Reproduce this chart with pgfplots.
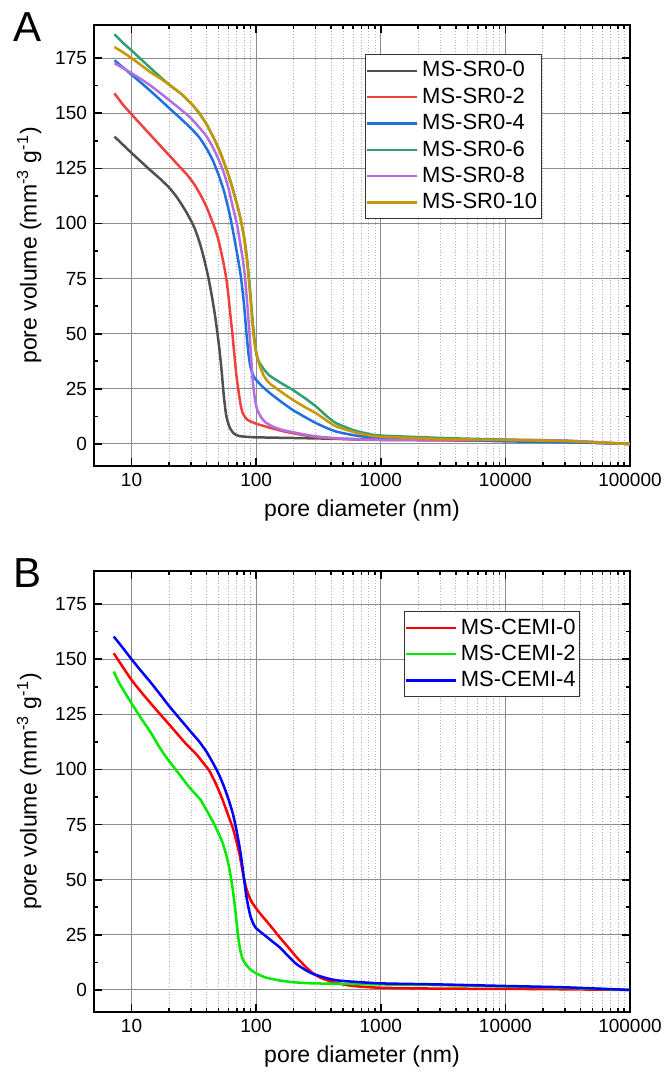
\documentclass[border=0pt]{standalone}
\usepackage{fontspec}
\setmainfont{Liberation Sans}
\usepackage{pgfplots}
\pgfplotsset{compat=1.18}

\definecolor{cA0}{RGB}{80,80,80}
\definecolor{cA2}{RGB}{240,64,64}
\definecolor{cA4}{RGB}{32,112,224}
\definecolor{cA6}{RGB}{48,160,112}
\definecolor{cA8}{RGB}{176,112,224}
\definecolor{cA10}{RGB}{200,150,0}
\definecolor{cB0}{RGB}{255,0,0}
\definecolor{cB2}{RGB}{0,235,0}
\definecolor{cB4}{RGB}{0,0,255}

\begin{document}
\begin{tikzpicture}
\path[use as bounding box] (-47pt,-303.5pt) rectangle (285pt,233pt);

\begin{axis}[
  at={(0pt,0pt)}, anchor=south west,
  scale only axis, width=268pt, height=220.5pt,
  xmode=log, xmin=5, xmax=100000, ymin=-10, ymax=190,
  xtick={10,100,1000,10000,100000},
  xticklabels={10,100,1000,10000,100000},
  ytick={0,25,50,75,100,125,150,175}, minor y tick num=1,
  tick align=inside,
  major tick length=4pt, minor tick length=2pt,
  xmajorgrids, ymajorgrids, xminorgrids,
  major grid style={black!45, line width=0.5pt},
  minor grid style={black!30, densely dotted, line width=0.4pt},
  axis line style={line width=1pt},
  every tick/.style={black, line width=0.8pt},
  tick label style={font=\fontsize{9.5}{11}\selectfont},
  label style={font=\fontsize{11.5}{13}\selectfont},
  xlabel={pore diameter (nm)},
  ylabel={pore volume (mm\textsuperscript{-3} g\textsuperscript{-1})},
  /pgf/number format/assume math mode=true,
  legend cell align=left,
  legend style={font=\fontsize{11}{13}\selectfont, draw=black!80, line width=0.5pt, anchor=north west, row sep=0pt, inner xsep=0pt, inner ysep=1.5pt, at={(axis description cs:0.506,0.934)}},
  legend image code/.code={\draw[#1] (-2pt,0pt) -- (23pt,0pt);},
  every axis plot/.append style={line width=1.25pt, smooth, tension=0.35},
]
\addplot[cA0] coordinates {
(7.3,139.4) (10,132) (14,124.4) (17,120.2) (20,116.3) (22.5,112.8) (25,109) (27.5,105.2)
(30,101.3) (32,98) (34,94) (36,89.5) (38,84.5) (41,76.5)
(44,67.5) (47,57.5) (50,46) (52.5,35) (55,22) (57.5,13) (61,7.8) (66,4.8) (73,3.6) (85,3.2)
(100,3.0) (200,2.7) (500,2.3) (1000,2.1) (3000,1.8) (10000,1.5) (30000,1.0) (100000,0)
};
\addlegendentry{MS-SR0-0}
\addplot[cA2] coordinates {
(7.3,159) (8.5,154) (10,149.5) (12,144.6) (14,140.5) (17,135.3) (20,131) (24,126.1) (28,122)
(32,117.6) (36,112.7) (40,107.5) (43,103) (46,98.7) (49,94) (52,88) (55,81.5) (57.6,75)
(60,67) (62,59) (64.5,50) (67,40) (69.5,31) (72,24.5) (75,18) (78,14) (85,11) (100,9.2)
(130,7.3) (170,5.6) (230,4.2) (320,3.0) (560,2.1) (1000,1.8) (10000,1.4) (30000,1.0) (100000,0)
};
\addlegendentry{MS-SR0-2}
\addplot[cA4] coordinates {
(7.3,174) (10,167.5) (14,160.4) (20,152.4) (29,144) (35,139) (40,134) (45,128.5) (50,122)
(55,115) (60,106.5) (63,101) (67,93) (71,85) (74,79) (76,74.5) (80,63) (83.7,50) (87,40.5)
(90,35) (95,31) (100,29) (115,25.5) (128,23.2) (160,19) (197,15.4) (250,12) (304,9.4)
(370,7.2) (440,5.6) (600,4.0) (800,3.1) (1000,2.6) (3000,2.0) (10000,1.2) (30000,0.8) (100000,0)
};
\addlegendentry{MS-SR0-4}
\addplot[cA6] coordinates {
(7.3,185.8) (8.5,182) (10,178.5) (12,174.3) (14,170.8) (17,166.5) (20,163) (25,158.8)
(30,154.5) (35,150) (40,145) (45,139.5) (50,134) (55,128) (60,122) (65,115.5) (70,109)
(73,105) (76,100.5) (80,94) (84,85.5) (87,77) (90,68) (93,58) (96,50) (98.5,44) (101,40)
(106,37) (115,34) (128,31) (160,27.5) (197,24.5) (250,20.5) (304,16.9) (370,12.5) (440,9.4)
(600,6.3) (767,4.8) (1000,3.8) (3590,2.6) (10000,2.0) (30000,1.5) (100000,0)
};
\addlegendentry{MS-SR0-6}
\addplot[cA8] coordinates {
(7.3,172.7) (10,168.2) (14,162.8) (20,156) (29,148.5) (35,143.5) (40,139.5) (45,134.5)
(50,129) (55,123) (60,116) (65,107.5) (70,100) (74,92) (78,84) (81.6,75) (85,63) (88.4,50)
(91,40) (93.5,30) (95.5,25) (98,20) (102,15.5) (110,12) (120,9.6) (140,7.6) (164,6.3)
(220,4.8) (304,3.4) (562,2.2) (1000,1.9) (10000,1.8) (30000,1.5) (100000,0)
};
\addlegendentry{MS-SR0-8}
\addplot[cA10] coordinates {
(7.3,180) (8.5,177.7) (10,175) (12,171.7) (14,168.8) (17,165.8) (20,163) (25,158.8)
(30,154.5) (35,150) (40,145) (45,139.5) (50,134) (55,128) (60,122) (65,115.5) (70,109)
(73,105) (76,100.5) (80,93.5) (84,84.5) (87,75.5) (90,66) (92.5,58) (95,50) (97.5,45)
(100,42) (106,36) (115,31) (128,27.5) (160,23.5) (197,20) (250,16.5) (304,13.9) (370,10.5)
(440,7.9) (600,5.5) (767,4.1) (1000,3.3) (3000,2.3) (10000,1.8) (30000,1.3) (100000,0)
};
\addlegendentry{MS-SR0-10}
\end{axis}
\node[font=\fontsize{21}{24}\selectfont] at (-33pt,219.5pt) {A};

\begin{axis}[
  at={(0pt,-273pt)}, anchor=south west,
  scale only axis, width=268pt, height=220.5pt,
  xmode=log, xmin=5, xmax=100000, ymin=-10, ymax=190,
  xtick={10,100,1000,10000,100000},
  xticklabels={10,100,1000,10000,100000},
  ytick={0,25,50,75,100,125,150,175}, minor y tick num=1,
  tick align=inside,
  major tick length=4pt, minor tick length=2pt,
  xmajorgrids, ymajorgrids, xminorgrids,
  major grid style={black!45, line width=0.5pt},
  minor grid style={black!30, densely dotted, line width=0.4pt},
  axis line style={line width=1pt},
  every tick/.style={black, line width=0.8pt},
  tick label style={font=\fontsize{9.5}{11}\selectfont},
  label style={font=\fontsize{11.5}{13}\selectfont},
  xlabel={pore diameter (nm)},
  ylabel={pore volume (mm\textsuperscript{-3} g\textsuperscript{-1})},
  /pgf/number format/assume math mode=true,
  legend cell align=left,
  legend style={font=\fontsize{11}{13}\selectfont, draw=black!80, line width=0.5pt, anchor=north west, row sep=0pt, inner xsep=0pt, inner ysep=1.5pt, at={(axis description cs:0.578,0.909)}},
  legend image code/.code={\draw[#1] (-2pt,0pt) -- (23pt,0pt);},
  every axis plot/.append style={line width=1.25pt, smooth, tension=0.35},
]
\addplot[cB0] coordinates {
(7.2,152.7) (8.5,146.5) (10,140.6) (12,135) (14,130.5) (17,125) (20,120.5) (24,115.3)
(28,111) (33,107) (37,103.5) (42,99.5) (48,93) (54,86) (59,80) (65,73.5) (69,68) (73.4,61.8)
(77,55.5) (80,50.5) (83,46.5) (87,43) (92,40) (100,37) (110,34) (120,31.5) (135,28)
(154,24) (180,19.5) (210,15) (250,10.5) (286,7.5) (330,5.5) (400,3.8) (470,2.8) (600,1.8)
(990,1.0) (3000,0.6) (10000,0.5) (30000,0.3) (100000,0)
};
\addlegendentry{MS-CEMI-0}
\addplot[cB2] coordinates {
(7.2,144.4) (8,139) (10,130) (12.2,122.4) (14,117.5) (16.6,110.5) (19,105.5) (22.6,100)
(26,95.5) (29,92) (33,88.5) (36,86) (40,81.5) (44.8,76.5) (50,71) (54,66.5) (58,60.5)
(61,55) (64,48) (66.5,41) (69,33) (71.5,25) (74,19) (77,15) (80,12.8) (85,10.8) (90,9.3)
(100,7.5) (120,5.6) (154,4.3) (200,3.5) (286,3.0) (990,2.5) (3000,2.2) (10000,1.6)
(30000,1.0) (100000,0)
};
\addlegendentry{MS-CEMI-2}
\addplot[cB4] coordinates {
(7.2,160.3) (8.5,155.2) (10,150) (12,144.5) (14,140) (17,134) (20,128.8) (25,122.3)
(30,117) (35,112.6) (40,108) (45,103) (50,98) (55,92.5) (60,86.5) (65,80) (69,73.5)
(72.5,67) (75.5,61) (78,55) (80.5,49) (83,43.5) (86,38.5) (90,33.5) (95,30) (100,28)
(113,25.5) (135,22) (154,19.4) (180,15.5) (210,11.8) (250,9) (286,7.3) (370,5.3) (470,4.2)
(990,3.0) (3000,2.5) (10000,1.8) (30000,1.2) (100000,0)
};
\addlegendentry{MS-CEMI-4}
\end{axis}
\node[font=\fontsize{21}{24}\selectfont] at (-33pt,-53.5pt) {B};
\end{tikzpicture}
\end{document}
